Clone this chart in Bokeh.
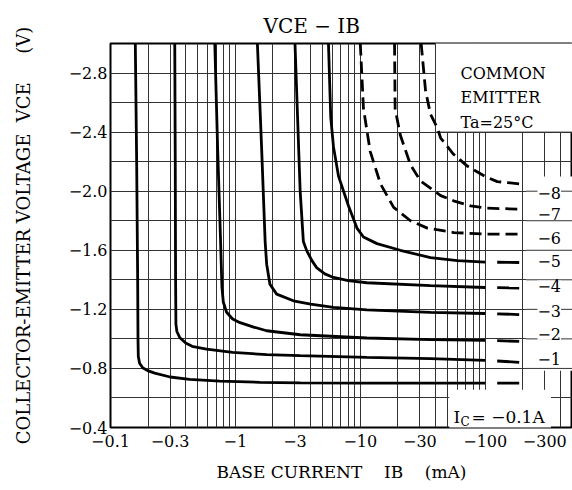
import numpy as np
from bokeh.plotting import figure
from bokeh.models import FixedTicker, Label
from bokeh.embed import file_html
from bokeh.resources import INLINE

FONT = "DejaVu Serif"
NB = "\u00a0"

# ---------------- data (as printed: negative mA / negative V) ----------------
ic_labels = ["−8", "−7", "−6", "−5", "−4", "−3", "−2", "−1"]
ic_label_vce = [-1.985, -1.845, -1.685, -1.525, -1.355, -1.19, -1.035, -0.865]

ib_01 = [-0.158, -0.162, -0.165, -0.166, -0.167, -0.171, -0.181, -0.198, -0.226, -0.30, -0.43, -0.75, -1.57, -3.3, -10, -36, -100, -200]
vce_01 = [-3.0, -2.2, -1.4, -1.0, -0.88, -0.835, -0.805, -0.785, -0.768, -0.742, -0.726, -0.714, -0.706, -0.702, -0.70, -0.70, -0.70, -0.70]

ib_1 = [-0.327, -0.33, -0.332, -0.334, -0.34, -0.358, -0.40, -0.45, -0.587, -0.95, -1.78, -3.3, -11.3, -36.5, -100, -200]
vce_1 = [-3.0, -2.2, -1.4, -1.1, -1.05, -1.01, -0.972, -0.95, -0.93, -0.909, -0.893, -0.886, -0.875, -0.866, -0.855, -0.84]

ib_2 = [-0.684, -0.72, -0.761, -0.78, -0.80, -0.85, -0.95, -1.09, -1.4, -1.78, -3.3, -11.3, -36.5, -100, -200]
vce_2 = [-3.0, -2.3, -1.66, -1.35, -1.25, -1.18, -1.135, -1.11, -1.08, -1.055, -1.028, -1.006, -0.995, -0.99, -0.983]

ib_3 = [-1.50, -1.62, -1.73, -1.78, -1.89, -2.14, -2.91, -4.0, -6.1, -11.3, -36.5, -100, -200]
vce_3 = [-3.0, -2.3, -1.66, -1.506, -1.37, -1.303, -1.258, -1.235, -1.213, -1.197, -1.179, -1.172, -1.164]

ib_4 = [-3.0, -3.3, -3.5, -3.73, -4.1, -4.49, -5.2, -6.1, -8.0, -11.3, -36.5, -100, -200]
vce_4 = [-3.0, -2.0, -1.66, -1.596, -1.53, -1.48, -1.44, -1.416, -1.395, -1.38, -1.36, -1.348, -1.344]

ib_5 = [-5.56, -5.8, -6.1, -6.7, -8.05, -9.4, -10.6, -13.6, -20.9, -36.5, -60, -100, -200]
vce_5 = [-3.0, -2.5, -2.3, -2.1, -1.9, -1.75, -1.69, -1.645, -1.6, -1.55, -1.53, -1.52, -1.517]

ib_6 = [-10.0, -10.6, -12.0, -14.5, -18.5, -25.2, -34.4, -56, -100, -200]
vce_6 = [-3.0, -2.56, -2.27, -2.05, -1.89, -1.8, -1.75, -1.72, -1.71, -1.709]

ib_7 = [-18.8, -19.0, -20.9, -25.2, -30.3, -44, -55.8, -76.5, -104, -200]
vce_7 = [-3.0, -2.56, -2.38, -2.18, -2.07, -1.97, -1.935, -1.9, -1.885, -1.878]

ib_8 = [-30.7, -33.3, -36.5, -41.3, -44, -55.8, -71.9, -100, -125, -200]
vce_8 = [-3.0, -2.68, -2.52, -2.43, -2.36, -2.25, -2.17, -2.1, -2.065, -2.047]

solid_curves = [(ib_01, vce_01), (ib_1, vce_1), (ib_2, vce_2), (ib_3, vce_3), (ib_4, vce_4), (ib_5, vce_5)]
dashed_curves = [(ib_6, vce_6), (ib_7, vce_7), (ib_8, vce_8)]

x_tick_values = [-0.1, -0.3, -1, -3, -10, -30, -100, -300]
x_tick_labels = ["−0.1", "−0.3", "−1", "−3", "−10", "−30", "−100", "−300"]
y_tick_values = [-0.4, -0.8, -1.2, -1.6, -2.0, -2.4, -2.8]
y_tick_labels = ["−0.4", "−0.8", "−1.2", "−1.6", "−2.0", "−2.4", "−2.8"]

title_text = "VCE − IB"
x_title = "BASE CURRENT" + NB * 4 + "IB" + NB * 4 + "(mA)"
y_title = "COLLECTOR-EMITTER VOLTAGE" + NB * 2 + "VCE" + NB * 5 + "(V)"

# ---------------- figure ----------------
FL, FB = 110, 427   # page position of frame left / bottom (for screen labels)

p = figure(width=572, height=490, x_axis_type="log", x_range=(0.1, 500), y_range=(0.4, 3.0),
           output_backend="svg", toolbar_location=None,
           min_border_left=110, min_border_right=0, min_border_top=43, min_border_bottom=63)
p.outline_line_color = "black"
p.outline_line_width = 2
p.background_fill_color = "white"
p.border_fill_color = "white"

p.title.text = title_text
p.title.text_font = FONT
p.title.text_font_size = "20px"
p.title.text_font_style = "normal"
p.title.text_color = "black"
p.title.align = "left"
p.title.offset = 153
p.title.standoff = 12

xt = [abs(v) for v in x_tick_values]
yt = [abs(v) for v in y_tick_values]
p.xaxis.ticker = FixedTicker(ticks=xt)
p.yaxis.ticker = FixedTicker(ticks=yt)
p.xaxis.major_label_overrides = dict(zip(xt, x_tick_labels))
p.yaxis.major_label_overrides = dict(zip(yt, y_tick_labels))
for ax in (p.xaxis[0], p.yaxis[0]):
    ax.axis_line_color = None
    ax.major_tick_line_color = None
    ax.minor_tick_line_color = None
    ax.major_tick_out = 0
    ax.major_tick_in = 0
    ax.minor_tick_out = 0
    ax.minor_tick_in = 0
    ax.major_label_text_font = FONT
    ax.major_label_text_font_size = "16px"
    ax.major_label_text_color = "black"
    ax.axis_label_text_font = FONT
    ax.axis_label_text_font_style = "normal"
    ax.axis_label_text_color = "black"
p.xaxis.axis_label_text_font_size = "17px"
p.yaxis.axis_label_text_font_size = "18px"
p.xaxis.major_label_standoff = 7
p.yaxis.major_label_standoff = 3
p.xaxis.axis_label = x_title
p.yaxis.axis_label = y_title
p.xaxis.axis_label_standoff = 12
p.yaxis.axis_label_standoff = 32

# grid
gx = []
for dec in [0.1, 1, 10, 100]:
    for m in range(1, 10):
        v = dec * m
        if 0.1 < v < 500:
            gx.append(round(v, 6))
gy = [round(0.6 + 0.2 * i, 2) for i in range(12)]
p.xgrid.ticker = FixedTicker(ticks=gx)
p.ygrid.ticker = FixedTicker(ticks=gy)
for g in (p.xgrid[0], p.ygrid[0]):
    g.grid_line_color = "#333333"
    g.grid_line_width = 1
    g.grid_line_alpha = 1.0

# white boxes over the grid
p.quad(left=[40], right=[600], bottom=[2.4], top=[3.2], fill_color="white",
       line_color="#333333", line_width=1)
p.quad(left=[212], right=[600], bottom=[0.785], top=[2.1], fill_color="white", line_color=None)
p.quad(left=[51.5], right=[336], bottom=[0.3], top=[0.655], fill_color="white", line_color=None)
# horizontal grid lines that continue through the label column
hy = [round(0.8 + 0.2 * i, 2) for i in range(7)]
p.segment(x0=[212] * len(hy), x1=[600] * len(hy), y0=hy, y1=hy, line_color="#333333", line_width=1)

# curves
LW = 2.8
for ib, vce in solid_curves:
    x = np.abs(np.array(ib, dtype=float))
    y = np.abs(np.array(vce, dtype=float))
    m1 = x <= 100
    m2 = x >= 100
    p.line(x[m1], y[m1], line_color="black", line_width=LW)
    p.line(x[m2], y[m2], line_color="black", line_width=LW, line_dash="22 12", line_dash_offset=22)
for ib, vce in dashed_curves:
    x = np.abs(np.array(ib, dtype=float))
    y = np.abs(np.array(vce, dtype=float))
    p.line(x, y, line_color="black", line_width=LW, line_dash="12 6")

# curve labels (IC in A)
for t, v in zip(ic_labels, ic_label_vce):
    p.add_layout(Label(x=262, y=abs(v), text=t, text_font=FONT, text_font_size="16px",
                       text_baseline="middle", text_align="left",
                       background_fill_color="white", text_color="black"))


def lab(text, px, py, size, align="left"):
    p.add_layout(Label(x=px - FL, y=FB - py, x_units="screen", y_units="screen", text=text,
                       text_font=FONT, text_font_size=size, text_align=align,
                       text_baseline="alphabetic", text_color="black"))


# annotation box
lab("COMMON", 460, 73, "16px")
lab("EMITTER", 460, 97, "16px")
lab("Ta=25°C", 460, 122, "16px")

# I_C = -0.1A
lab("I", 453, 416, "17px")
lab("C", 460, 421, "12px")
lab("= −0.1A", 471, 416, "17px")

open("out.html", "w").write(file_html(p, INLINE))
